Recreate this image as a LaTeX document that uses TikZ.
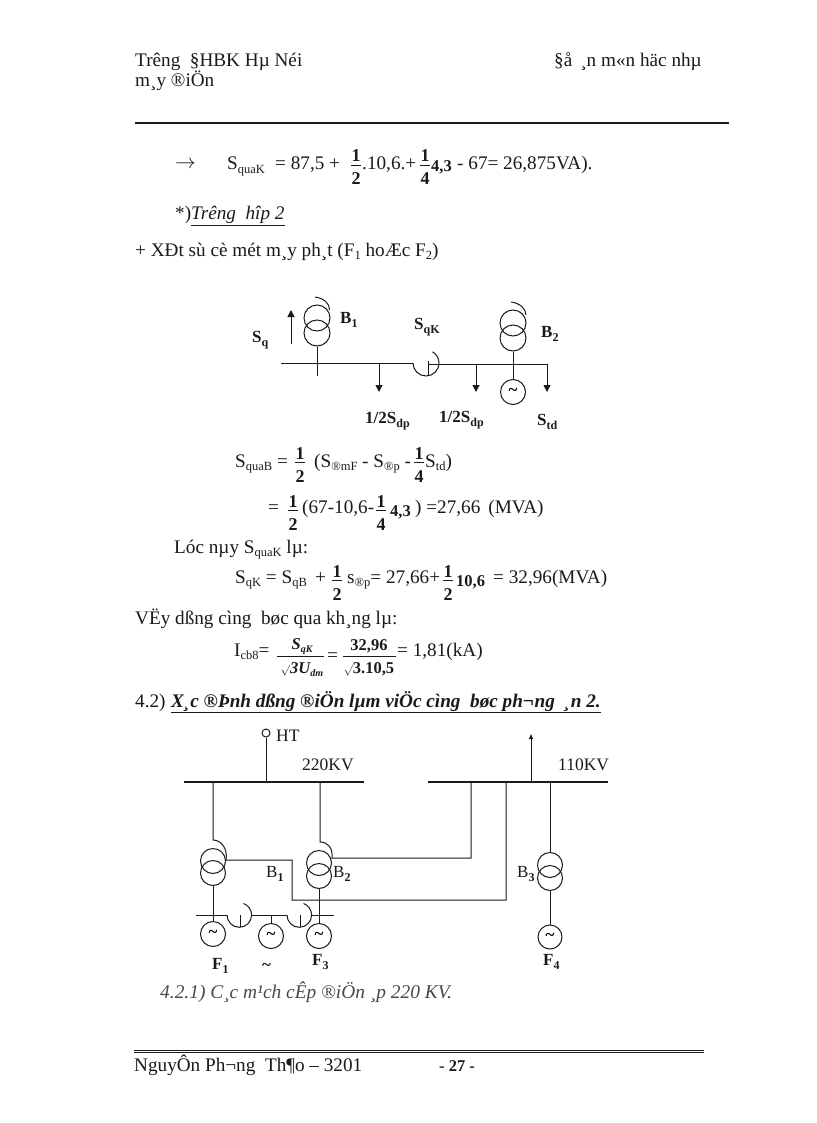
\documentclass[tikz,border=0pt]{standalone}
\usepackage{fontspec}
\setmainfont{Liberation Serif}
\usetikzlibrary{arrows.meta}
\definecolor{ink}{HTML}{1A1A1A}
\newcommand{\sbs}[1]{\raisebox{-3.5pt}{\fontsize{12.5}{13}\selectfont #1}}
\newcommand{\bsb}[1]{\raisebox{-4pt}{\fontsize{12}{13}\selectfont\bfseries #1}}
\newcommand{\srd}{{\fontsize{11}{11}\selectfont$\surd$}}
\tikzset{
  txt/.style={anchor=base west,inner sep=0pt,font=\fontsize{19.2}{22}\selectfont,text=ink},
  lab/.style={anchor=base west,inner sep=0pt,font=\fontsize{17}{20}\selectfont\bfseries,text=ink},
  lbl/.style={anchor=base west,inner sep=0pt,font=\fontsize{17.5}{20}\selectfont,text=ink},
  frc/.style={anchor=base,inner sep=0pt,font=\fontsize{18}{20}\selectfont\bfseries,text=ink},
  bnum/.style={anchor=base west,inner sep=0pt,font=\fontsize{16.5}{18}\selectfont\bfseries,text=ink},
  wire/.style={draw=ink,line width=1pt},
  bus/.style={draw=ink,line width=2.6pt},
  arr/.style={draw=ink,line width=1pt,-{Triangle[length=7pt,width=7pt]}},
  tc/.style={circle,draw=ink,line width=1pt,minimum size=26pt,inner sep=0pt},
  gen/.style={circle,draw=ink,line width=1pt,minimum size=25pt,inner sep=0pt,font=\fontsize{17}{17}\selectfont\bfseries},
}
\newcommand{\fr}[5]{%
  \node[frc] (#1n) at (#2,#3-6) {#4};
  \node[frc] (#1d) at (#2,#3+17) {#5};
  \draw[wire,line width=.8pt] ([xshift=-5pt,yshift=-3pt]#1n.south) -- ([xshift=5pt,yshift=-3pt]#1n.south);
}
\begin{document}
\begin{tikzpicture}[x=1pt,y=-1pt]
\useasboundingbox (0,0) rectangle (816,1123);
\fill[white] (0,0) rectangle (816,1123);
% header
\node[txt] (h1) at (135,67) {Trêng\ \ §HBK Hµ Néi};
\node[txt] (h2) at (554,67) {§å \,¸n m«n häc nhµ};
\node[txt] (h3) at (135,87) {m¸y ®iÖn};
\coordinate (rl) at (135,123); \coordinate (rr) at (729,123);
\draw[ink,line width=1.6pt] (rl) -- (rr);
% line 1
\node[txt] (a0) at (175,169) {$\rightarrow$};
\node[txt] (a1) at (227,170) {S\sbs{quaK}};
\node[txt] (a2) at (275,170) {= 87,5 +};
\fr{fa}{356}{168}{1}{2}
\node[txt] (a3) at (362,170) {.10,6.+};
\fr{fb}{425}{168}{1}{4}
\node[bnum] (a4) at (431,172) {4,3};
\node[txt] (a5) at (457,170) {- 67= 26,875VA).};
\node[txt] (a6) at (175,220) {*)\underline{\itshape Trêng\ \ hîp 2}};
\node[txt] (a7) at (135,256) {+ XÐt sù cè mét m¸y ph¸t (F\sbs{1} hoÆc F\sbs{2})};
% diagram 1
\node[tc] (t1u) at (317,318) {};
\node[tc] (t1l) at (317,333) {};
\coordinate (t1end) at (317,376);
\coordinate (au) at (291,310); \coordinate (ad) at (291,344);
\draw[arr] (ad) -- (au);
\draw[wire] (t1l.south) -- (t1end);
\coordinate (w1a) at (315,297); \coordinate (w1b) at (329.5,310);
\draw[wire] (w1a) .. controls (323,298) and (330,303) .. (w1b);
\coordinate (b1a) at (281,363); \coordinate (b1b) at (413,363);
\draw[wire] (b1a) -- (b1b);
\coordinate (hl) at (413,363); \coordinate (hr) at (439,364); \coordinate (hv) at (428,376);
\draw[wire] (hl) arc[start angle=180,end angle=-60,radius=13];
\draw[wire] (428,361) -- (hv);
\coordinate (b2a) at (428,364); \coordinate (b2b) at (547,364);
\draw[wire] (b2a) -- (b2b);
\foreach \n/\x in {p/379,q/476,r/547}{
  \coordinate (\n t) at (\x,363.5); \coordinate (\n b) at (\x,392);
  \draw[arr] (\n t) -- (\n b);
}
\node[tc] (t2u) at (513,323) {};
\node[tc] (t2l) at (513,338) {};
\node[gen] (g0) at (513,392) {\char`\~};
\draw[wire] (t2l.south) -- (g0.north);
\coordinate (w2a) at (511,302); \coordinate (w2b) at (526,315);
\draw[wire] (w2a) .. controls (519,303) and (526,308) .. (w2b);
\node[lab] (l1) at (252,342) {S\bsb{q}};
\node[lab] (l2) at (340,323) {B\bsb{1}};
\node[lab] (l3) at (414,329) {S\bsb{qK}};
\node[lab] (l4) at (541,337) {B\bsb{2}};
\node[lab] (l5) at (365,423) {1/2S\bsb{dp}};
\node[lab] (l6) at (439,422) {1/2S\bsb{dp}};
\node[lab] (l7) at (537,425) {S\bsb{td}};
% equations
\node[txt] (c1) at (235,467) {S\sbs{quaB} =};
\fr{fc}{300}{465}{1}{2}
\node[txt] (c2) at (314,467) {(S\sbs{®mF} - S\sbs{®p} -};
\fr{fd}{419}{465}{1}{4}
\node[txt] (c3) at (425,467) {S\sbs{td})};
\node[txt] (d1) at (268,513) {=};
\fr{fe}{293}{513}{1}{2}
\node[txt] (d2) at (302,513) {(67-10,6-};
\fr{ff}{381}{513}{1}{4}
\node[bnum] (d3) at (390,516) {4,3};
\node[txt] (d4) at (415,513) {) =27,66 \,(MVA)};
\node[txt] (e1) at (174,553) {Lóc nµy S\sbs{quaK} lµ:};
\node[txt] (e2) at (235,583) {S\sbs{qK} = S\sbs{qB}};
\node[txt] (e3) at (315,583) {+};
\fr{fg}{337}{583}{1}{2}
\node[txt] (e4) at (347,583) {s\sbs{®p}= 27,66+};
\fr{fh}{448}{583}{1}{2}
\node[bnum] (e5) at (456,586) {10,6};
\node[txt] (e6) at (493,583) {= 32,96(MVA)};
\node[txt] (f1) at (135,624) {VËy dßng cìng\ \ bøc qua kh¸ng lµ:};
\node[txt] (g1) at (234,656) {I\sbs{cb8}=};
\node[frc,font=\fontsize{16.5}{18}\selectfont\bfseries\itshape] (g2) at (302,649) {S\raisebox{-3pt}{\fontsize{10}{10}\selectfont qK}};
\coordinate (g2l) at (277,656); \coordinate (g2r) at (324,656);
\draw[wire,line width=.8pt] (g2l) -- (g2r);
\node[frc,font=\fontsize{16.5}{18}\selectfont\bfseries\itshape] (g3) at (302,673) {\srd 3U\raisebox{-3pt}{\fontsize{10}{10}\selectfont dm}};
\node[txt] (g4) at (327,661) {=};
\node[frc,font=\fontsize{16.5}{18}\selectfont\bfseries] (g5) at (369,650) {32,96};
\coordinate (g5l) at (343,656); \coordinate (g5r) at (396,656);
\draw[wire,line width=.8pt] (g5l) -- (g5r);
\node[frc,font=\fontsize{16.5}{18}\selectfont\bfseries] (g6) at (369,673) {\srd 3.10,5};
\node[txt] (g7) at (397,656) {= 1,81(kA)};
\node[txt] (i1) at (135,707) {4.2)};
\node[txt,font=\fontsize{19.2}{22}\selectfont\bfseries\itshape] (i2) at (171,707) {\underline{X¸c ®Þnh dßng ®iÖn lµm viÖc cìng\ \ bøc ph¬ng\ \ ¸n 2.}};
% diagram 2
\coordinate (bu1a) at (184,782); \coordinate (bu1b) at (364,782);
\coordinate (bu2a) at (428,782); \coordinate (bu2b) at (608,782);
\draw[bus] (bu1a) -- (bu1b);
\draw[bus] (bu2a) -- (bu2b);
\node[circle,draw=ink,line width=1pt,minimum size=8pt,inner sep=0pt] (ht) at (266,733) {};
\coordinate (htb) at (266,782);
\draw[wire] (ht.south) -- (htb);
\node[lbl] (n1) at (276,741) {HT};
\node[lbl] (n2) at (302,770) {220KV};
\node[lbl] (n3) at (558,770) {110KV};
% B1
\node[tc,minimum size=25pt] (b1u) at (213,861) {};
\node[tc,minimum size=25pt] (b1l) at (213,873) {};
\coordinate (b1t) at (213,782); \coordinate (b1h) at (213,840); \coordinate (b1r) at (226,860);
\draw[wire] (b1t) -- (b1h) .. controls (222,840) and (228,850) .. (b1r) -- (292,860) -- (292,900) -- (506,900) -- (506,782);
% B2
\node[tc,minimum size=25pt] (b2u) at (319,863) {};
\node[tc,minimum size=25pt] (b2l) at (319,876) {};
\coordinate (b2t) at (320,782); \coordinate (b2h) at (320,842); \coordinate (b2r) at (332,858);
\draw[wire] (b2t) -- (b2h) .. controls (328,842) and (333,848) .. (b2r) -- (471,858) -- (471,782);
% B3
\node[tc,minimum size=25pt] (b3u) at (550,865) {};
\node[tc,minimum size=25pt] (b3l) at (550,878) {};
\node[gen,minimum size=24pt] (g4n) at (550,937) {\char`\~};
\coordinate (b3t) at (550,782);
\draw[wire] (b3t) -- (b3u.north);
\draw[wire] (b3l.south) -- (g4n.north);
\coordinate (up0) at (531,782); \coordinate (up1) at (531,734);
\draw[arr,-{Triangle[length=5pt,width=4pt]}] (up0) -- (up1);
% low bus
\coordinate (lb1) at (196,915); \coordinate (lb2) at (227,915);
\coordinate (lb3) at (252,915); \coordinate (lb4) at (287,915);
\coordinate (lb5) at (312,915); \coordinate (lb6) at (334,915);
\draw[wire] (lb1) -- (lb2);
\draw[wire] (lb3) -- (lb4);
\draw[wire] (lb5) -- (lb6);
\draw[wire] (lb2) arc[start angle=180,end angle=-70,radius=12.3];
\draw[wire] (240.5,915) -- (240.5,927);
\draw[wire] (lb4) arc[start angle=180,end angle=-70,radius=12.3];
\draw[wire] (300.5,915) -- (300.5,927);
\node[gen] (g1n) at (213,934) {\char`\~};
\node[gen] (g2n) at (271,936) {\char`\~};
\node[gen] (g3n) at (319,936) {\char`\~};
\draw[wire] (b1l.south) -- (g1n.north);
\draw[wire] (b2l.south) -- (g3n.north);
\coordinate (g2t) at (271,915);
\draw[wire] (g2t) -- (g2n.north);
\node[lab,font=\fontsize{17}{20}\selectfont] (m1) at (266,877) {B\bsb{1}};
\node[lab,font=\fontsize{17}{20}\selectfont] (m2) at (333,877) {B\bsb{2}};
\node[lab,font=\fontsize{17}{20}\selectfont] (m3) at (517,877) {B\bsb{3}};
\node[lab] (m4) at (212,969) {F\bsb{1}};
\node[lab] (m5) at (262,970) {\char`\~};
\node[lab] (m6) at (312,965) {F\bsb{3}};
\node[lab] (m7) at (543,965) {F\bsb{4}};
\node[txt,font=\fontsize{19.4}{22}\selectfont\itshape,text=ink!80] (j1) at (160,998) {4.2.1) C¸c m¹ch cÊp ®iÖn ¸p 220 KV.};
% footer
\coordinate (fl) at (134,1050); \coordinate (fr) at (704,1050);
\coordinate (fl2) at (134,1052.6); \coordinate (fr2) at (704,1052.6);
\draw[ink,line width=.9pt] (fl) -- (fr);
\draw[ink,line width=1.2pt] (fl2) -- (fr2);
\node[txt] (k1) at (134,1071) {NguyÔn Ph¬ng\ \ Th¶o -- 3201};
\node[txt,font=\fontsize{16.5}{18}\selectfont\bfseries] (k2) at (439,1071) {- 27 -};
\coordinate (dl) at (0,1121.7); \coordinate (dr) at (816,1121.7);
\draw[green!15!white,line width=.7pt,dotted] (dl) -- (dr);
\end{tikzpicture}
\end{document}
